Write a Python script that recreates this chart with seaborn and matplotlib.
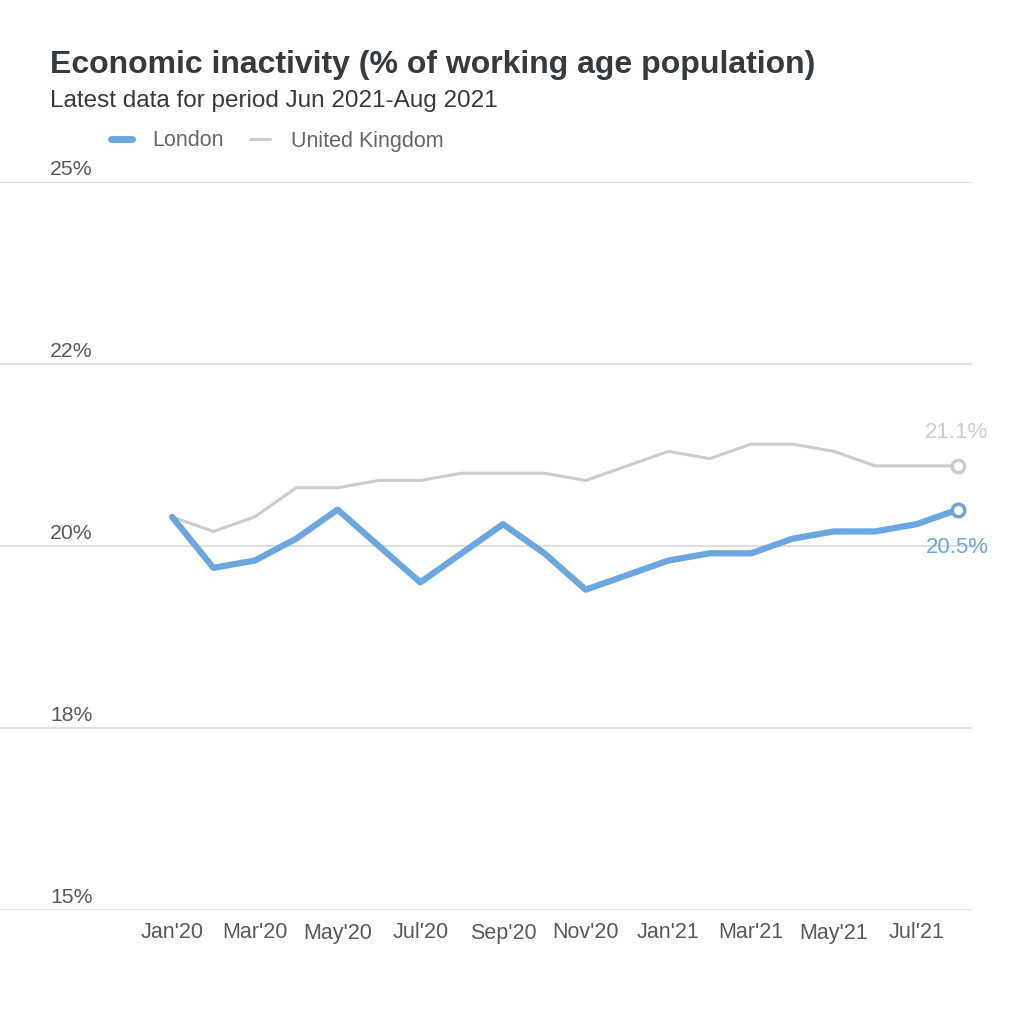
import matplotlib
matplotlib.use("Agg")
import matplotlib.pyplot as plt
import matplotlib.transforms as mtransforms
import pandas as pd
import seaborn as sns

months = ["Jan'20", "Feb'20", "Mar'20", "Apr'20", "May'20", "Jun'20", "Jul'20",
          "Aug'20", "Sep'20", "Oct'20", "Nov'20", "Dec'20", "Jan'21", "Feb'21",
          "Mar'21", "Apr'21", "May'21", "Jun'21", "Jul'21", "Aug'21"]
london = [20.4, 19.7, 19.8, 20.1, 20.5, 20.0, 19.5, 19.9, 20.3, 19.9,
          19.4, 19.6, 19.8, 19.9, 19.9, 20.1, 20.2, 20.2, 20.3, 20.5]
uk = [20.4, 20.2, 20.4, 20.8, 20.8, 20.9, 20.9, 21.0, 21.0, 21.0,
      20.9, 21.1, 21.3, 21.2, 21.4, 21.4, 21.3, 21.1, 21.1, 21.1]
y_ticks = [15, 17.5, 20, 22.5, 25]
y_tick_labels = ["15%", "18%", "20%", "22%", "25%"]

blue = "#6aa6df"
grey = "#cccccc"

df = pd.DataFrame({
    "idx": list(range(len(months))) * 2,
    "value": london + uk,
    "series": ["London"] * len(months) + ["United Kingdom"] * len(months),
})

sns.set_style("white")
plt.rcParams["font.family"] = ["Liberation Sans", "DejaVu Sans"]

fig = plt.figure(figsize=(10.24, 10.24), dpi=100)
ax = fig.add_axes([0.0, 1 - 910 / 1024, 972 / 1024, (910 - 182) / 1024])

sns.lineplot(data=df[df.series == "United Kingdom"], x="idx", y="value",
             color=grey, linewidth=2.2, ax=ax, legend=False)
sns.lineplot(data=df[df.series == "London"], x="idx", y="value",
             color=blue, linewidth=4.5, ax=ax, legend=False)

# end markers and labels
last = len(months) - 1
ax.plot(last, uk[-1], "o", ms=9, mfc="white", mec=grey, mew=2.5, zorder=5)
ax.plot(last, london[-1], "o", ms=9, mfc="white", mec=blue, mew=2.5, zorder=5)
ax.annotate(f"{uk[-1]:.1f}%", (last, uk[-1]), xytext=(22, 24), textcoords="offset points",
            ha="right", va="center", color=grey, fontsize=16)
ax.annotate(f"{london[-1]:.1f}%", (last, london[-1]), xytext=(22, -27), textcoords="offset points",
            ha="right", va="center", color=blue, fontsize=16)

ax.set_xlim(-4.16, 19.34)
ax.set_ylim(15, 25)
ax.set_yticks(y_ticks)
ax.set_yticklabels([])
ax.tick_params(axis="y", length=0)
ax.grid(axis="y", color="#d9d9d9", linewidth=1.2)
ax.set_axisbelow(True)
for s in ax.spines.values():
    s.set_visible(False)

ax.set_xticks(range(0, len(months), 2))
ax.set_xticklabels(months[::2], fontsize=15.5, color="#595959")
ax.tick_params(axis="x", length=0, pad=9)
ax.set_xlabel("")
ax.set_ylabel("")

trans = mtransforms.blended_transform_factory(fig.transFigure, ax.transData)
for t, lab in zip(y_ticks, y_tick_labels):
    ax.annotate(lab, (50 / 1024, t), xycoords=trans, xytext=(0, 2), textcoords="offset points",
                ha="left", va="bottom", fontsize=15.3, color="#595959")

fig.text(50 / 1024, 1 - 65 / 1024, "Economic inactivity (% of working age population)",
         fontsize=23, fontweight="bold", color="#333a40", va="center")
fig.text(50 / 1024, 1 - 101 / 1024, "Latest data for period Jun 2021-Aug 2021",
         fontsize=17.5, color="#333a40", va="center")

handles = [plt.Line2D([], [], color=blue, lw=5), plt.Line2D([], [], color=grey, lw=2.2)]
fig.legend(handles, ["London", "United Kingdom"], loc="center left",
           bbox_to_anchor=(92 / 1024, 1 - 141 / 1024), ncol=2, frameon=False,
           fontsize=15.5, handlelength=0.95, columnspacing=1.2, handletextpad=0.95,
           labelcolor="#666666")

fig.savefig("out.png", dpi=100, facecolor="white")
